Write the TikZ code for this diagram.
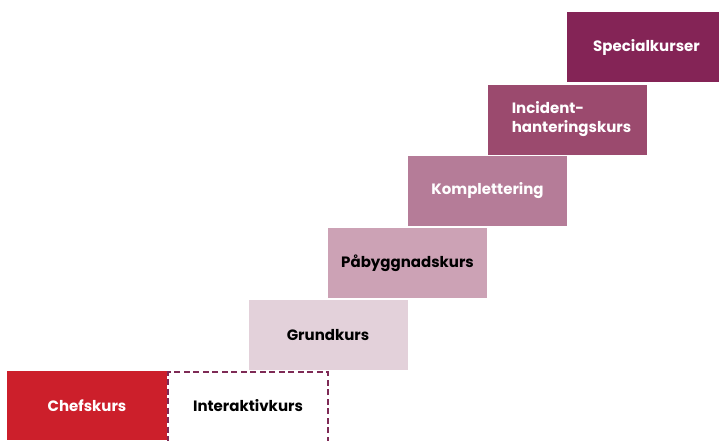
\documentclass[tikz,border=0pt]{standalone}
\usepackage{fontspec}
\setmainfont{Poppins}
\usepackage{tikz}
\usetikzlibrary{positioning}
\definecolor{chefred}{HTML}{CC1F2B}
\definecolor{plum}{HTML}{842456}
\definecolor{plumA}{HTML}{9B4A6E}
\definecolor{plumB}{HTML}{B57C98}
\definecolor{plumC}{HTML}{CCA2B5}
\definecolor{plumD}{HTML}{E3D1DA}
\definecolor{dashplum}{HTML}{7E2A55}
\begin{document}
\begin{tikzpicture}[x=1pt, y=-1pt]
\useasboundingbox (0,0) rectangle (719,440);
\tikzstyle{every node} = [rectangle, minimum width=159pt, minimum height=70pt, inner sep=0pt, font=\fontsize{15}{19}\selectfont\bfseries]
\node[fill=chefred, text=white, minimum width=160pt, minimum height=69pt] (chef) at (87,405.5) {Chefskurs};
\node[draw=dashplum, dashed, dash pattern=on 6pt off 3.5pt, line width=1.2pt, minimum width=160pt, minimum height=72pt] (inter) at (248,408) {};
\node (intertext) at (248,406) {Interaktivkurs};
\node[fill=plumD, text=black] (grund) at (328,335) {Grundkurs};
\node[fill=plumC, text=black] (pab) at (407.5,263) {Påbyggnadskurs};
\node[fill=plumB, text=white] (kompl) at (487.5,191) {Komplettering};
\node[fill=plumA, text=white, align=left] (incident) at (567,119.5) {\hspace*{9pt}Incident-\\\hspace*{9pt}hanteringskurs};
\node[fill=plum, text=white] (special) at (646.5,47) {Specialkurser};
\end{tikzpicture}
\end{document}
